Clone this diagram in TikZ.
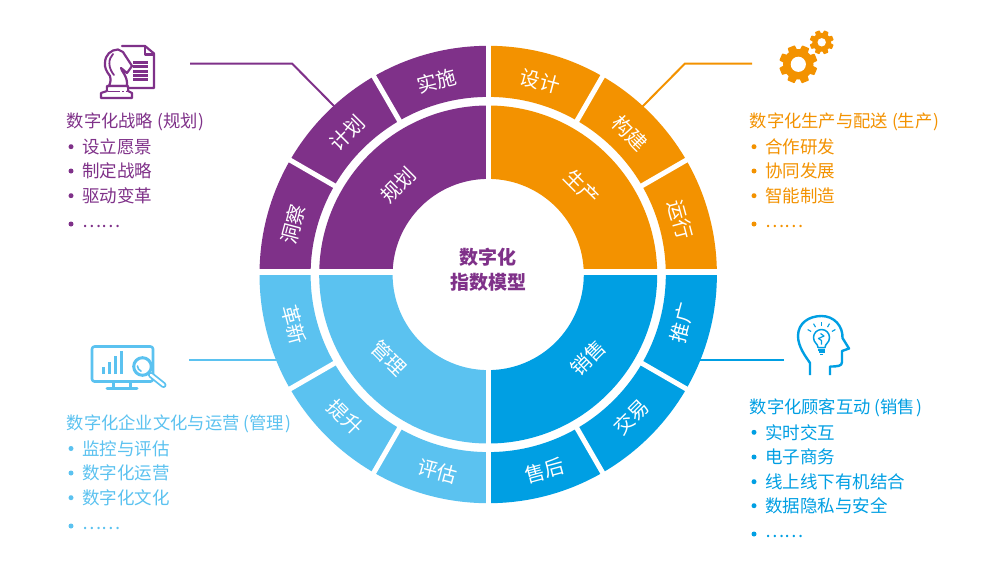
\documentclass[tikz,border=0pt]{standalone}
\usepackage{fontspec}
\setmainfont{Noto Sans CJK SC}
\definecolor{cpurple}{HTML}{7F3189}
\definecolor{corange}{HTML}{F39200}
\definecolor{clight}{HTML}{5BC2F0}
\definecolor{cblue}{HTML}{009FE3}
\newcommand{\ringseg}[5]{\fill[#1,shift={(488.2,-274.5)}] (#2:#4) arc (#2:#3:#4) -- (#3:#5) arc (#3:#2:#5) -- cycle;}
\newcommand{\gearshape}[4]{% x, y, outer radius, root radius
  \begin{scope}[shift={(#1,#2)}]
    \fill[corange] (0,0) circle (#4);
    \foreach \a in {0,45,...,315}{
      \fill[corange,rotate=\a+22,rounded corners=0.6pt] (-#3*0.30,0) -- (-#3*0.20,#3) -- (#3*0.20,#3) -- (#3*0.30,0) -- cycle;
    }
  \end{scope}}
\newcommand{\openp}{\kern4pt(}
\newcommand{\closep}{\kern1pt)}
\tikzset{
  ringtext/.style={text=white,font=\fontsize{20}{20}\selectfont,inner sep=0pt},
  headtext/.style={anchor=west,inner sep=0pt,font=\fontsize{17.3}{18}\selectfont},
  itemtext/.style={anchor=west,inner sep=0pt,font=\fontsize{17.5}{18}\selectfont},
  dotstext/.style={anchor=west,inner sep=0pt,font=\fontsize{18}{18}\selectfont,yshift=-2pt},
  bulletdot/.style={circle,fill,inner sep=0pt,minimum size=5pt},
  leader/.style={line width=2pt},
  leaderwide/.style={line width=2.7pt},
  iconline/.style={line width=2.2pt,line join=round,line cap=round}
}
\begin{document}
\begin{tikzpicture}[x=1pt,y=1pt]
\useasboundingbox (0,-568) rectangle (981,0);
\fill[white] (0,-568) rectangle (981,0);

% connectors
\coordinate (pa) at (190,-63.5); \coordinate (pb) at (292,-63.5); \coordinate (pc) at (336,-108);
\coordinate (oa) at (752,-63.5); \coordinate (ob) at (685,-63.5); \coordinate (oc) at (641,-108);
\coordinate (la) at (189,-360); \coordinate (lc) at (285,-360);
\coordinate (ba) at (784,-360); \coordinate (bc) at (695,-360);
\draw[leader,cpurple] (pa) -- (pb) -- (pc);
\draw[leader,corange] (oa) -- (ob) -- (oc);
\draw[leaderwide,clight] (la) -- (lc);
\draw[leaderwide,cblue] (ba) -- (bc);

% rings
\ringseg{cpurple}{90}{180}{228.7}{177.6}
\ringseg{cpurple}{90}{180}{169}{95.6}
\ringseg{corange}{0}{90}{228.7}{177.6}
\ringseg{corange}{0}{90}{169}{95.6}
\ringseg{clight}{180}{270}{228.7}{177.6}
\ringseg{clight}{180}{270}{169}{95.6}
\ringseg{cblue}{270}{360}{228.7}{177.6}
\ringseg{cblue}{270}{360}{169}{95.6}
\fill[white] (485.7,-40) rectangle (490.7,-510);
\fill[white] (250,-269) rectangle (725,-275);
\foreach \a in {30,60,120,150,210,240,300,330}{
  \draw[white,line width=5pt,shift={(488.2,-274.5)}] (\a:175) -- (\a:232);
}

% ring labels
\begin{scope}[shift={(488.2,-274.5)}]
\node[ringtext,rotate=15]  (sshi) at (105:200) {实施};
\node[ringtext,rotate=45]  (jihua) at (135:200) {计划};
\node[ringtext,rotate=75]  (dongcha) at (165.5:201) {洞察};
\node[ringtext,rotate=-15] (sheji) at (75:200) {设计};
\node[ringtext,rotate=-45] (goujian) at (45:200) {构建};
\node[ringtext,rotate=-75] (yunxing) at (16:200) {运行};
\node[ringtext,rotate=75]  (tuiguang) at (-14:200) {推广};
\node[ringtext,rotate=45]  (jiaoyi) at (-45:202) {交易};
\node[ringtext,rotate=15]  (shouhou) at (-74:204) {售后};
\node[ringtext,rotate=-15] (pinggu) at (-104.5:203) {评估};
\node[ringtext,rotate=-45] (tisheng) at (-135:202) {提升};
\node[ringtext,rotate=-75] (gexin) at (-165.5:201) {革新};
\node[ringtext,rotate=45]  (guihua) at (135:127) {规划};
\node[ringtext,rotate=-45] (shengchan) at (43:128) {生产};
\node[ringtext,rotate=45]  (xiaoshou) at (-40:130) {销售};
\node[ringtext,rotate=-45] (guanli) at (-140:130) {管理};
\end{scope}
\node[inner sep=0pt,text=cpurple,font=\fontsize{19}{19}\bfseries\selectfont] (c1) at (488,-257) {数字化};
\node[inner sep=0pt,text=cpurple,font=\fontsize{19}{19}\bfseries\selectfont] (c2) at (488,-282) {指数模型};

% purple text
\begin{scope}[text=cpurple]
\node[headtext] (h1) at (66.5,-122) {数字化战略\openp 规划\closep};
\node[itemtext] (h1a) at (82,-146.7) {设立愿景};
\node[itemtext] (h1b) at (82,-171) {制定战略};
\node[itemtext] (h1c) at (82,-195.7) {驱动变革};
\node[dotstext] (h1d) at (82,-224) {……};
\end{scope}
\foreach \y in {146.7,171,195.7,224}{\node[bulletdot,cpurple] at (71,-\y) {};}

% orange text
\begin{scope}[text=corange]
\node[headtext] (h2) at (749.5,-122) {数字化生产与配送\openp 生产\closep};
\node[itemtext] (h2a) at (765,-146.7) {合作研发};
\node[itemtext] (h2b) at (765,-171) {协同发展};
\node[itemtext] (h2c) at (765,-195.7) {智能制造};
\node[dotstext] (h2d) at (765,-224) {……};
\end{scope}
\foreach \y in {146.7,171,195.7,224}{\node[bulletdot,corange] at (754,-\y) {};}

% light blue text
\begin{scope}[text=clight]
\node[headtext] (h3) at (66.5,-424.3) {数字化企业文化与运营\openp 管理\closep};
\node[itemtext] (h3a) at (82,-448.5) {监控与评估};
\node[itemtext] (h3b) at (82,-473) {数字化运营};
\node[itemtext] (h3c) at (82,-497.7) {数字化文化};
\node[dotstext] (h3d) at (82,-526) {……};
\end{scope}
\foreach \y in {448.5,473,497.7,526}{\node[bulletdot,clight] at (71,-\y) {};}

% blue text
\begin{scope}[text=cblue]
\node[headtext] (h4) at (749.5,-408) {数字化顾客互动\openp 销售\closep};
\node[itemtext] (h4a) at (765,-432.3) {实时交互};
\node[itemtext] (h4b) at (765,-457) {电子商务};
\node[itemtext] (h4c) at (765,-481.7) {线上线下有机结合};
\node[itemtext] (h4d) at (765,-505.7) {数据隐私与安全};
\node[dotstext] (h4e) at (765,-534) {……};
\end{scope}
\foreach \y in {432.3,457,481.7,505.7,534}{\node[bulletdot,cblue] at (754,-\y) {};}

% icon: knight and document
\begin{scope}[iconline,cpurple]
\draw (122,-46) -- (145,-46) -- (154,-53.5) -- (154,-88) -- (128,-88);
\draw (145,-47) -- (145,-54.5) -- (153,-54.5);
\foreach \y in {62.5,66.8,71.1,75.4,79.5}{\draw[line width=3pt,line cap=butt] (133,-\y) -- (148,-\y);}
\draw[fill=white] (109,-86) .. controls (111,-81) and (111,-78) .. (110,-76)
  .. controls (106,-71) and (104.5,-67) .. (105,-63)
  .. controls (105,-55) and (111,-49.5) .. (118,-49.5)
  -- (123,-52) .. controls (126,-57) and (129,-61) .. (132,-66)
  -- (127,-73) -- (121,-68)
  .. controls (121,-71) and (128,-76) .. (127,-86) -- cycle;
\draw[line width=1.8pt] (113,-54) .. controls (108,-59) and (108,-68) .. (114,-75);
\draw[fill=white] (101,-98) -- (101,-93) -- (107,-91) -- (107,-86) -- (128,-86) -- (128,-91) -- (132,-93) -- (132,-98) -- cycle;
\draw[white,line width=1.6pt,line cap=butt,dash pattern=on 5pt off 2pt on 2pt off 2pt] (108,-88.8) -- (127,-88.8);
\draw[line width=1.5pt,line cap=butt,dash pattern=on 12pt off 2pt on 2pt off 2pt on 3pt off 9pt] (108,-91.5) -- (127,-91.5);
\end{scope}

% icon: gears
\gearshape{798.3}{-64.3}{19}{15.2}
\gearshape{821.7}{-42.3}{12}{9.4}
\fill[white] (798.3,-64.3) circle (7.6);
\fill[white] (821.7,-42.3) circle (4.2);

% icon: monitor
\begin{scope}[line width=2.6pt,clight,line join=round,line cap=round]
\draw[rounded corners=2.5pt] (92,-346.5) rectangle (153,-381.5);
\draw (113.5,-382) -- (113.5,-388) (130.5,-382) -- (130.5,-388);
\draw[line width=3pt] (107,-388.5) -- (137,-388.5);
\draw[line width=3pt,line cap=butt] (103,-374) -- (103,-367);
\draw[line width=3pt,line cap=butt] (109.5,-374) -- (109.5,-362);
\draw[line width=3pt,line cap=butt] (115.5,-374) -- (115.5,-356);
\draw[line width=3pt,line cap=butt] (121.5,-374) -- (121.5,-351);
\draw[line width=6pt] (151,-375) -- (163.5,-385);
\draw[line width=2.4pt,white] (151,-375) -- (163.5,-385);
\draw[line width=3pt,fill=white] (142.5,-366.5) circle (8.8);
\draw[line width=1.6pt] (137.5,-366) arc (180:250:5.5);
\end{scope}

% icon: head with bulb
\begin{scope}[line width=2.4pt,cblue,line join=round]
\draw (810,-375) -- (810,-363)
  .. controls (806,-357) and (798,-347) .. (798,-336)
  .. controls (798,-323) and (809,-316) .. (821.5,-316)
  .. controls (834,-316) and (843,-326) .. (842.5,-338)
  -- (849,-348.5) -- (842,-351) -- (842,-362)
  .. controls (842,-366) and (838,-366.5) .. (830,-366.5) -- (830,-375);
\draw[line width=1.5pt] (818,-347.5) .. controls (818,-343.5) and (813.5,-343) .. (813.5,-337.5)
  arc (180:0:8) .. controls (829.5,-343) and (825,-343.5) .. (825,-347.5) -- cycle;
\draw[line width=1.8pt] (818,-349.8) -- (825,-349.8) (818.5,-352.3) -- (824.5,-352.3) (820,-354.5) -- (823,-354.5);
\draw[line width=1.2pt] (821.5,-344.5) -- (821.5,-340.5) -- (818.5,-338.5) -- (824,-336) -- (820.5,-333.5);
\foreach \a in {30,60,90,120,150}{
  \draw[line width=1.1pt,shift={(821.5,-337.5)}] (\a:12) -- (\a:16);
}
\end{scope}
\end{tikzpicture}
\end{document}
